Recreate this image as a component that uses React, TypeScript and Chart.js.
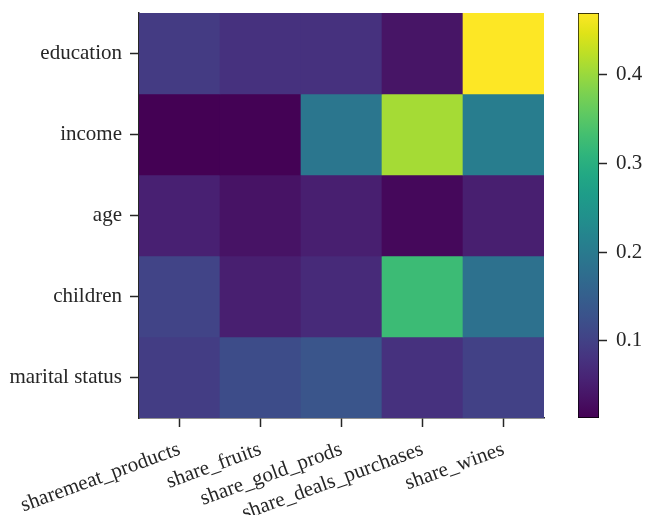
import React, { useEffect, useRef } from "react";
import { Chart, registerables } from "chart.js";

Chart.register(...registerables);

// ---- data ----
const rowLabels = ["education", "income", "age", "children", "marital status"];
const colLabels = [
  "sharemeat_products",
  "share_fruits",
  "share_gold_prods",
  "share_deals_purchases",
  "share_wines",
];
const educationRow = [0.091, 0.077, 0.078, 0.038, 0.47];
const incomeRow = [0.013, 0.014, 0.191, 0.408, 0.205];
const ageRow = [0.054, 0.036, 0.052, 0.022, 0.052];
const childrenRow = [0.104, 0.052, 0.068, 0.324, 0.182];
const maritalRow = [0.095, 0.118, 0.132, 0.077, 0.1];
const matrixRows = [educationRow, incomeRow, ageRow, childrenRow, maritalRow];

const colorbarMin = 0.0131;
const colorbarMax = 0.4697;
const colorbarTicks = [0.1, 0.2, 0.3, 0.4];

// ---- viridis colormap (style lookup) ----
const VIRIDIS = [
  "#440154", "#471365", "#482475", "#463480", "#414487", "#3b528b", "#355f8d",
  "#2f6c8e", "#2a788e", "#25848e", "#21918c", "#1e9c89", "#22a884", "#2fb47c",
  "#44bf70", "#5ec962", "#7ad151", "#9bd93c", "#bddf26", "#dfe318", "#fde725",
];
function hexToRgb(h: string) {
  return [parseInt(h.slice(1, 3), 16), parseInt(h.slice(3, 5), 16), parseInt(h.slice(5, 7), 16)];
}
const VIR_RGB = VIRIDIS.map(hexToRgb);
function viridis(t: number) {
  const tt = Math.max(0, Math.min(1, t)) * (VIR_RGB.length - 1);
  const i = Math.min(Math.floor(tt), VIR_RGB.length - 2);
  const f = tt - i;
  const a = VIR_RGB[i], b = VIR_RGB[i + 1];
  const c = a.map((v, k) => Math.round(v + (b[k] - v) * f));
  return `rgb(${c[0]},${c[1]},${c[2]})`;
}
function colorOf(v: number) {
  return viridis((v - colorbarMin) / (colorbarMax - colorbarMin));
}

const FONT = { family: '"Liberation Serif", "Times New Roman", serif', size: 21 };
const INK = "#262626";

function zeroPad(s: any) {
  s.paddingTop = 0;
  s.paddingBottom = 0;
  s.paddingLeft = 0;
  s.paddingRight = 0;
}

export default function App() {
  const mainRef = useRef<HTMLCanvasElement>(null);
  const cbRef = useRef<HTMLCanvasElement>(null);

  useEffect(() => {
    const datasets = matrixRows.map((row, r) => ({
      label: rowLabels[r],
      data: row.map(() => [r - 0.5, r + 0.5]),
      backgroundColor: row.map((v) => colorOf(v)),
      borderWidth: 0,
      barPercentage: 1,
      categoryPercentage: 1,
      grouped: false,
    }));

    const main = new Chart(mainRef.current!, {
      type: "bar",
      data: { labels: colLabels, datasets: datasets as any },
      options: {
        responsive: false,
        animation: false,
        devicePixelRatio: 1,
        layout: { padding: { left: 0, top: 13, right: 102, bottom: 0 } },
        plugins: { legend: { display: false }, tooltip: { enabled: false } },
        scales: {
          x: {
            type: "category",
            offset: true,
            grid: {
              offset: false,
              drawOnChartArea: false,
              drawTicks: true,
              tickLength: 9,
              tickWidth: 1.5,
              tickColor: INK,
            },
            border: { display: true, color: INK, width: 1.5 },
            ticks: {
              font: FONT,
              color: INK,
              minRotation: 20,
              maxRotation: 20,
              autoSkip: false,
              padding: 10,
            },
            afterFit: (s: any) => {
              s.height = 97;
              zeroPad(s);
            },
          },
          y: {
            type: "linear",
            min: -0.5,
            max: 4.5,
            reverse: true,
            grid: {
              drawOnChartArea: false,
              drawTicks: true,
              tickLength: 9,
              tickWidth: 1.5,
              tickColor: INK,
            },
            border: { display: true, color: INK, width: 1.5 },
            ticks: {
              font: FONT,
              color: INK,
              padding: 8,
              callback: (v: any) => rowLabels[v as number],
            },
            afterBuildTicks: (s: any) => {
              s.ticks = rowLabels.map((_, i) => ({ value: i }));
            },
            afterFit: (s: any) => {
              s.width = 139;
              zeroPad(s);
            },
          },
        },
      },
    });

    const cb = new Chart(cbRef.current!, {
      type: "bar",
      data: {
        labels: [""],
        datasets: [
          {
            data: [[colorbarMin, colorbarMax]] as any,
            backgroundColor: (ctx: any) => {
              const area = ctx.chart.chartArea;
              if (!area) return viridis(0.5);
              const g = ctx.chart.ctx.createLinearGradient(0, area.bottom, 0, area.top);
              VIRIDIS.forEach((c, i) => g.addColorStop(i / (VIRIDIS.length - 1), c));
              return g;
            },
            borderColor: "#000000",
            borderWidth: 1,
            borderSkipped: false,
            barPercentage: 1,
            categoryPercentage: 1,
          },
        ],
      },
      options: {
        responsive: false,
        animation: false,
        devicePixelRatio: 1,
        layout: { padding: { left: 578, top: 13, right: 0, bottom: 97 } },
        plugins: { legend: { display: false }, tooltip: { enabled: false } },
        scales: {
          x: { display: false },
          y: {
            type: "linear",
            position: "right",
            min: colorbarMin,
            max: colorbarMax,
            grid: {
              drawOnChartArea: false,
              drawTicks: true,
              tickLength: 8,
              tickWidth: 1.5,
              tickColor: INK,
            },
            border: { display: false },
            ticks: {
              font: FONT,
              color: INK,
              padding: 9,
              callback: (v: any) => (v as number).toFixed(1),
            },
            afterBuildTicks: (s: any) => {
              s.ticks = colorbarTicks.map((v) => ({ value: v }));
            },
            afterFit: (s: any) => {
              s.width = 47;
              zeroPad(s);
            },
          },
        },
      },
    });

    return () => {
      main.destroy();
      cb.destroy();
    };
  }, []);

  return (
    <div style={{ position: "fixed", left: 0, top: 0, width: 646, height: 515, background: "#fff" }}>
      <canvas ref={mainRef} width={646} height={515} style={{ position: "absolute", left: 0, top: 0 }} />
      <canvas ref={cbRef} width={646} height={515} style={{ position: "absolute", left: 0, top: 0 }} />
    </div>
  );
}
